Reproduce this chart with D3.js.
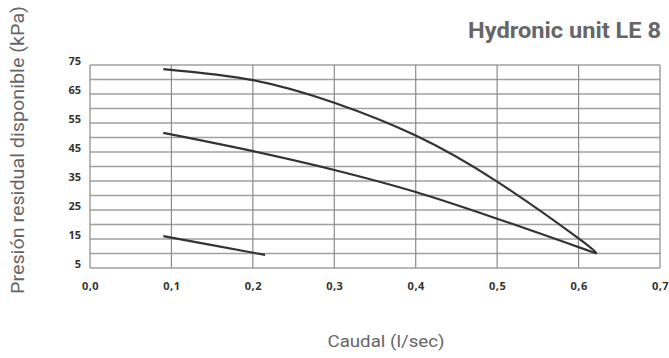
<!DOCTYPE html>
<html>
<head>
<meta charset="utf-8">
<script src="https://cdn.jsdelivr.net/npm/d3@7"></script>
<style>
  html, body { margin: 0; padding: 0; background: #fff; }
  svg { display: block; }
</style>
</head>
<body>
<svg id="chart" width="669" height="358"></svg>
<script>
// ---- data ----
const title = "Hydronic unit LE 8";
const xLabel = "Caudal (l/sec)";
const yLabel = "Presión residual disponible (kPa)";
const xTickValues = [0, 0.1, 0.2, 0.3, 0.4, 0.5, 0.6, 0.7];
const xTickLabels = ["0,0", "0,1", "0,2", "0,3", "0,4", "0,5", "0,6", "0,7"];
const yTickValues = [5, 15, 25, 35, 45, 55, 65, 75];
const yGridValues = [5, 10, 15, 20, 25, 30, 35, 40, 45, 50, 55, 60, 65, 70, 75];
const curveHigh = [[0.09, 73.6], [0.2, 69.8], [0.3, 62], [0.4, 50.7], [0.5, 34.8], [0.6, 15.2], [0.622, 10]];
const curveMid = [[0.09, 51.6], [0.2, 45.3], [0.3, 38.8], [0.4, 31.2], [0.5, 22], [0.6, 12.2], [0.622, 10]];
const curveLow = [[0.09, 16], [0.15, 12.9], [0.215, 9.5]];

// ---- layout ----
const svg = d3.select("#chart");
const x = d3.scaleLinear().domain([0, 0.7]).range([90, 660]);
const y = d3.scaleLinear().domain([5, 75]).range([268, 65]);

// grid
const grid = svg.append("g");
grid.selectAll("line.h").data(yGridValues).enter().append("line")
  .attr("x1", x(0)).attr("x2", x(0.7))
  .attr("y1", d => y(d)).attr("y2", d => y(d))
  .attr("stroke", "#a0a0a0").attr("stroke-width", 1.5);
grid.selectAll("line.v").data(xTickValues).enter().append("line")
  .attr("x1", d => x(d)).attr("x2", d => x(d))
  .attr("y1", y(75)).attr("y2", y(5))
  .attr("stroke", "#8a8a8a").attr("stroke-width", 1.2);

// axes (labels only)
const xAxis = d3.axisBottom(x).tickValues(xTickValues)
  .tickFormat((d, i) => xTickLabels[i]).tickSize(0).tickPadding(14);
const gx = svg.append("g").attr("transform", `translate(0,${y(5)})`).call(xAxis);
gx.select(".domain").remove();
gx.selectAll("text").attr("font-family", "'Open Sans', sans-serif")
  .attr("font-size", 11).attr("font-weight", 700).attr("fill", "#333")
  .attr("letter-spacing", "0.5px");

const yAxis = d3.axisLeft(y).tickValues(yTickValues).tickSize(0).tickPadding(9);
const gy = svg.append("g").attr("transform", `translate(${x(0)},0)`).call(yAxis);
gy.select(".domain").remove();
gy.selectAll("text").attr("font-family", "'Open Sans', sans-serif")
  .attr("font-size", 11).attr("font-weight", 700).attr("fill", "#333")
  .attr("dy", "-0.05em");

// curves
const lineSmooth = d3.line().x(d => x(d[0])).y(d => y(d[1])).curve(d3.curveNatural);
const lineMono = d3.line().x(d => x(d[0])).y(d => y(d[1])).curve(d3.curveMonotoneX);
[[curveHigh, lineSmooth], [curveMid, lineMono], [curveLow, lineMono]].forEach(([c, gen]) => {
  svg.append("path").datum(c).attr("d", gen)
    .attr("fill", "none").attr("stroke", "#333").attr("stroke-width", 2.2)
    .attr("stroke-linejoin", "round");
});

// title
svg.append("text").attr("x", 661).attr("y", 38).attr("text-anchor", "end")
  .attr("font-family", "Roboto, sans-serif").attr("font-weight", 700)
  .attr("font-size", 22).attr("fill", "#666")
  .attr("textLength", 193).attr("lengthAdjust", "spacingAndGlyphs")
  .text(title);

// axis titles
svg.append("text").attr("x", 386).attr("y", 347).attr("text-anchor", "middle")
  .attr("font-family", "Roboto, sans-serif").attr("font-size", 17)
  .attr("fill", "#666").attr("textLength", 117).attr("lengthAdjust", "spacingAndGlyphs")
  .text(xLabel);
svg.append("text").attr("transform", "translate(24,150) rotate(-90)")
  .attr("text-anchor", "middle")
  .attr("font-family", "Roboto, sans-serif").attr("font-size", 18)
  .attr("fill", "#666").attr("textLength", 288).attr("lengthAdjust", "spacingAndGlyphs")
  .text(yLabel);
</script>
</body>
</html>
